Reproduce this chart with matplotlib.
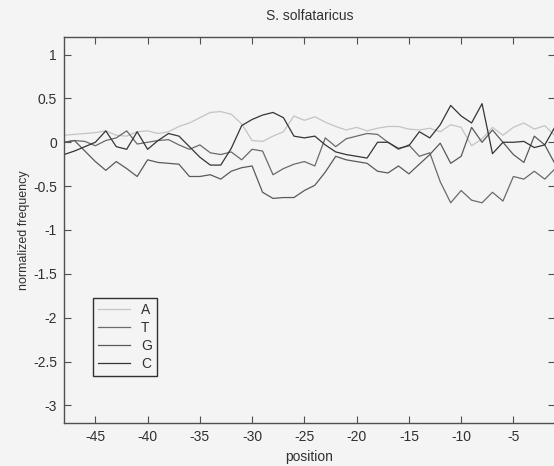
import matplotlib
matplotlib.use("Agg")
import matplotlib.pyplot as plt
import numpy as np

plt.rcParams['font.family'] = ['Liberation Sans', 'DejaVu Sans']
plt.rcParams['axes.unicode_minus'] = False

# positions relative to start site
position = np.arange(-48, 0)

freq_A = [0.08, 0.09, 0.10, 0.11, 0.13, 0.08, 0.07, 0.12, 0.13, 0.10,
          0.12, 0.18, 0.22, 0.28, 0.34, 0.35, 0.32, 0.21, 0.02, 0.01,
          0.07, 0.12, 0.30, 0.25, 0.29, 0.23, 0.18, 0.14, 0.17, 0.13,
          0.16, 0.18, 0.18, 0.15, 0.14, 0.16, 0.12, 0.20, 0.17, -0.04,
          0.04, 0.17, 0.08, 0.17, 0.22, 0.15, 0.19, 0.07]
freq_T = [0.00, 0.02, 0.01, -0.04, 0.02, 0.05, 0.13, -0.02, 0.00, 0.02,
          0.03, -0.03, -0.08, -0.03, -0.12, -0.14, -0.11, -0.20, -0.08, -0.10,
          -0.37, -0.30, -0.25, -0.22, -0.27, 0.05, -0.05, 0.04, 0.07, 0.10,
          0.09, 0.00, -0.08, -0.03, -0.16, -0.12, -0.45, -0.69, -0.55, -0.66,
          -0.69, -0.57, -0.67, -0.39, -0.42, -0.33, -0.42, -0.30]
freq_G = [0.00, 0.02, -0.10, -0.22, -0.32, -0.22, -0.30, -0.39, -0.20, -0.23,
          -0.24, -0.25, -0.39, -0.39, -0.37, -0.42, -0.33, -0.29, -0.27, -0.57,
          -0.64, -0.63, -0.63, -0.55, -0.49, -0.34, -0.16, -0.20, -0.22, -0.24,
          -0.33, -0.35, -0.27, -0.36, -0.25, -0.14, -0.01, -0.24, -0.16, 0.17,
          0.00, 0.14, 0.00, -0.14, -0.23, 0.07, -0.03, -0.25]
freq_C = [-0.14, -0.10, -0.05, 0.00, 0.13, -0.05, -0.08, 0.12, -0.08, 0.02,
          0.10, 0.07, -0.05, -0.17, -0.26, -0.26, -0.07, 0.19, 0.26, 0.31,
          0.34, 0.28, 0.07, 0.05, 0.07, -0.03, -0.11, -0.14, -0.16, -0.18,
          0.00, 0.00, -0.07, -0.04, 0.12, 0.05, 0.20, 0.42, 0.30, 0.22,
          0.44, -0.13, 0.00, 0.00, 0.01, -0.06, -0.03, 0.18]

bg = '#f4f4f4'
fig = plt.figure(figsize=(5.54, 4.66), dpi=100, facecolor=bg)
ax = fig.add_axes([64 / 554, 43 / 466, 491.2 / 554, 386 / 466], facecolor=bg)

ax.plot(position, freq_A, color='#c4c4c4', lw=0.9, label='A')
ax.plot(position, freq_T, color='#6a6a6a', lw=0.9, label='T')
ax.plot(position, freq_G, color='#5a5a5a', lw=0.9, label='G')
ax.plot(position, freq_C, color='#353535', lw=0.9, label='C')

ax.set_xlim(-48, -1)
ax.set_ylim(-3.2, 1.2)
ax.set_xticks(np.arange(-45, 0, 5))
yt = np.arange(-3, 1.01, 0.5)
ax.set_yticks(yt)
ax.set_yticklabels(['%g' % v for v in yt])

for s in ax.spines.values():
    s.set_color('#505050')
    s.set_linewidth(1)
ax.tick_params(direction='in', length=5, top=True, right=True,
               colors='#505050', labelcolor='#303030', labelsize=10, pad=5)

ax.set_title('S. solfataricus', fontsize=10, color='#303030', pad=12)
ax.set_xlabel('position', fontsize=10, color='#303030', labelpad=4)
ax.set_ylabel('normalized frequency', fontsize=9, color='#303030', labelpad=2)

leg = ax.legend(loc='lower left', bbox_to_anchor=(0.059, 0.122), borderaxespad=0,
                fancybox=False, framealpha=1, facecolor=bg, edgecolor='#303030',
                fontsize=10, handlelength=2.3, handletextpad=0.8, labelspacing=0.3,
                borderpad=0.35)
leg.get_frame().set_linewidth(1)
for t in leg.get_texts():
    t.set_color('#303030')

fig.savefig('out.png', dpi=100, facecolor=bg)
